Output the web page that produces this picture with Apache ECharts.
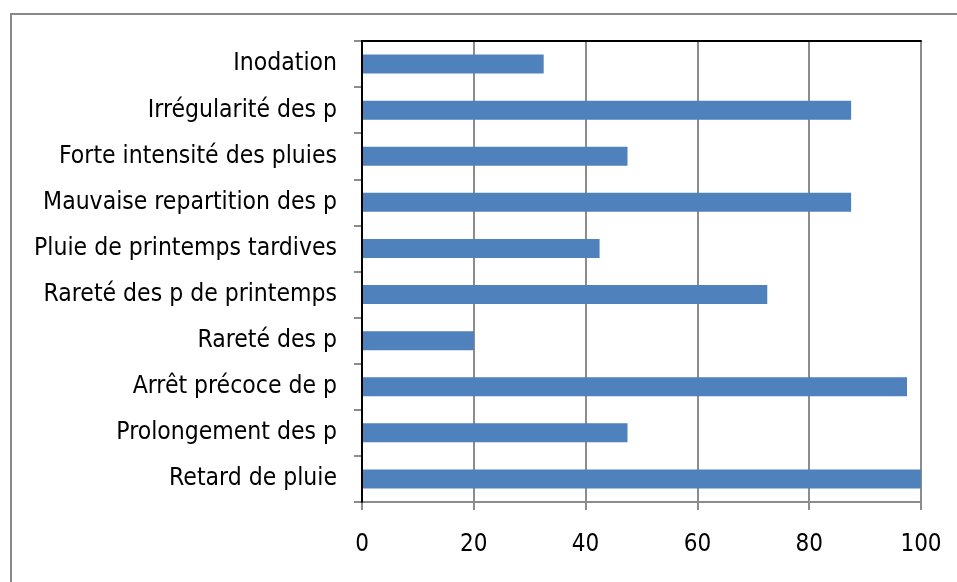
<!DOCTYPE html>
<html>
<head>
<meta charset="utf-8">
<script src="https://cdn.jsdelivr.net/npm/echarts@6/dist/echarts.min.js"></script>
<style>
  html, body { margin: 0; padding: 0; background: #fff; }
  #chart { width: 957px; height: 582px; }
</style>
</head>
<body>
<div id="chart"></div>
<script>
// Causes of rainfall-related damage (bottom to top, as listed on the axis)
const categories = [
  'Retard de pluie',
  'Prolongement des p',
  'Arrêt précoce de p',
  'Rareté des p',
  'Rareté des p de printemps',
  'Pluie de printemps tardives',
  'Mauvaise repartition des p',
  'Forte intensité des pluies',
  'Irrégularité des p',
  'Inodation'
];
const values = [100, 47.5, 97.5, 20, 72.5, 42.5, 87.5, 47.5, 87.5, 32.5];
const xTicks = [0, 20, 40, 60, 80, 100];

const FONT = '"Liberation Sans Narrow", "DejaVu Sans Condensed", "Liberation Sans", sans-serif';
const GRAY = '#8c8c8c';
const xMin = xTicks[0];
const xMax = xTicks[xTicks.length - 1];
const xStep = xTicks[1] - xTicks[0];

const chart = echarts.init(document.getElementById('chart'), null, { renderer: 'canvas' });
chart.setOption({
  animation: false,
  backgroundColor: '#fff',
  graphic: [{
    type: 'rect',
    shape: { x: 11, y: 14, width: 1000, height: 700 },
    style: { fill: 'none', stroke: '#888', lineWidth: 2 },
    silent: true,
    z: -10
  }],
  grid: {
    left: 362, right: 36, top: 41, bottom: 80,
    outerBoundsMode: 'none',
    containLabel: false
  },
  xAxis: [{
    type: 'value',
    min: xMin, max: xMax, interval: xStep,
    axisLine: { show: true, lineStyle: { color: GRAY, width: 2 } },
    axisTick: { show: true, length: 8, lineStyle: { color: GRAY, width: 2 } },
    splitLine: { show: true, lineStyle: { color: GRAY, width: 2 } },
    axisLabel: { color: '#000', fontFamily: FONT, fontSize: 24, margin: 31 }
  }, {
    // black frame along the top of the plot area
    type: 'value',
    position: 'top',
    min: xMin, max: xMax, interval: xStep,
    z: 5,
    axisLine: { show: true, lineStyle: { color: '#000', width: 2 } },
    axisTick: { show: false },
    splitLine: { show: false },
    axisLabel: { show: false }
  }],
  yAxis: [{
    type: 'category',
    data: categories,
    axisLine: { show: true, lineStyle: { color: GRAY, width: 2 } },
    axisTick: { show: true, length: 8, lineStyle: { color: GRAY, width: 2 } },
    splitLine: { show: false },
    axisLabel: { color: '#000', fontFamily: FONT, fontSize: 24.5, margin: 25, padding: [5, 0, 0, 0] }
  }, {
    // black frame along the right of the plot area
    type: 'category',
    data: categories,
    position: 'right',
    z: 5,
    axisLine: { show: true, lineStyle: { color: '#000', width: 2 } },
    axisTick: { show: false },
    splitLine: { show: false },
    axisLabel: { show: false }
  }],
  series: [{
    type: 'bar',
    data: values,
    xAxisIndex: 0,
    yAxisIndex: 0,
    barWidth: 19,
    itemStyle: { color: '#4F81BD' }
  }]
});
</script>
</body>
</html>
